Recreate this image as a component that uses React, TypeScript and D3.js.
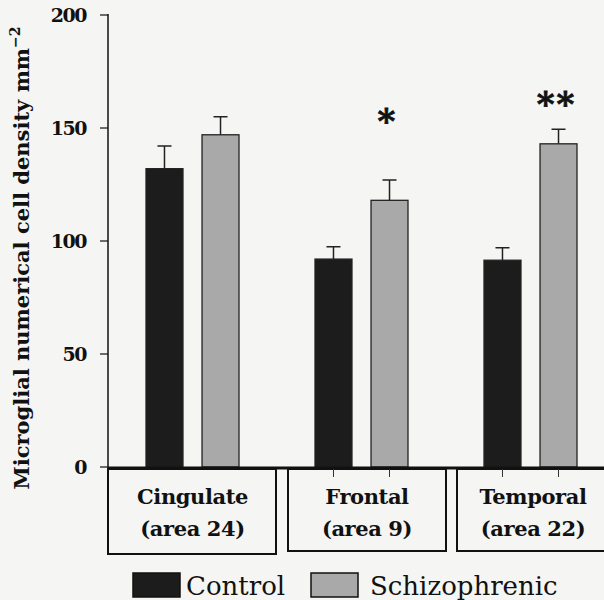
import React, { useEffect, useRef } from 'react';
import * as d3 from 'd3';

// values
const regions = ['Cingulate', 'Frontal', 'Temporal'];
const regionAreas = ['(area 24)', '(area 9)', '(area 22)'];
const series = ['Control', 'Schizophrenic'];
const controlMeans = [132, 92, 91.5];
const controlErrors = [10, 5.5, 5.5];
const schizoMeans = [147, 118, 143];
const schizoErrors = [8, 9, 6.5];
const significance = ['', '*', '**'];
const yTicks = [0, 50, 100, 150, 200];

const App = () => {
  const ref = useRef<SVGSVGElement>(null);

  useEffect(() => {
    const svg = d3.select(ref.current);
    svg.selectAll('*').remove();

    const font = "'DejaVu Serif', 'Liberation Serif', serif";
    const colors = ['#1c1c1c', '#a9a9a9'];

    svg.append('rect').attr('width', 604).attr('height', 600).attr('fill', '#f5f5f3');

    const y = d3.scaleLinear().domain([0, 200]).range([467, 15]);
    const x0 = d3.scaleBand().domain(regions).range([108, 615]);
    const x1 = d3.scaleBand().domain(series).range([-46.5, 46.5]).paddingInner(0.34).paddingOuter(0);

    const data = regions.map((r, i) => ({
      region: r,
      area: regionAreas[i],
      sig: significance[i],
      vals: [
        { s: series[0], v: controlMeans[i], e: controlErrors[i] },
        { s: series[1], v: schizoMeans[i], e: schizoErrors[i] },
      ],
    }));

    const g = svg.append('g').style('font-family', font);

    // y axis
    const axisX = 108;
    g.append('line')
      .attr('x1', axisX).attr('x2', axisX)
      .attr('y1', y(200) - 1).attr('y2', 553)
      .attr('stroke', '#111').attr('stroke-width', 1.5);
    g.selectAll('.ytick')
      .data(yTicks)
      .enter()
      .append('line')
      .attr('x1', axisX - 8).attr('x2', axisX)
      .attr('y1', (d) => y(d)).attr('y2', (d) => y(d))
      .attr('stroke', '#111').attr('stroke-width', 1.2);
    g.selectAll('.ylab')
      .data(yTicks)
      .enter()
      .append('text')
      .attr('x', 86)
      .attr('y', (d) => y(d) + 7)
      .attr('text-anchor', 'end')
      .attr('font-weight', 'bold')
      .attr('font-size', 19)
      .attr('letter-spacing', -1.5)
      .attr('fill', '#111')
      .text((d) => d);

    const yl = g.append('text')
      .attr('transform', `translate(29,${258}) rotate(-90)`)
      .attr('text-anchor', 'middle')
      .attr('font-weight', 'bold')
      .attr('font-size', 21)
      .attr('fill', '#111');
    yl.append('tspan').text('Microglial numerical cell density mm');
    yl.append('tspan').attr('dy', -9).attr('font-size', 14).text('−2');

    // bars
    const groups = g.selectAll('.grp')
      .data(data)
      .enter()
      .append('g')
      .attr('transform', (d) => `translate(${x0(d.region)! + x0.bandwidth() / 2},0)`);

    groups.selectAll('.err')
      .data((d) => d.vals)
      .enter()
      .append('path')
      .attr('d', (d) => {
        const cx = x1(d.s)! + x1.bandwidth() / 2;
        return `M${cx},${y(d.v)}V${y(d.v + d.e)}M${cx - 7},${y(d.v + d.e)}H${cx + 7}`;
      })
      .attr('stroke', '#222').attr('stroke-width', 1.5).attr('fill', 'none');

    groups.selectAll('.bar')
      .data((d) => d.vals)
      .enter()
      .append('rect')
      .attr('x', (d) => x1(d.s)!)
      .attr('y', (d) => y(d.v))
      .attr('width', x1.bandwidth())
      .attr('height', (d) => y(0) - y(d.v))
      .attr('fill', (d, i) => colors[i])
      .attr('stroke', '#222')
      .attr('stroke-width', 1.3);

    // significance marks (gap above the error bar in value units)
    const sigGap: Record<string, number> = { '*': 26, '**': 11 };
    groups.filter((d) => d.sig !== '')
      .append('text')
      .attr('x', x1(series[1])! + x1.bandwidth() / 2 - 2)
      .attr('y', (d) => y(d3.max(d.vals, (v) => v.v + v.e)! + sigGap[d.sig]) + 12)
      .attr('text-anchor', 'middle')
      .attr('font-weight', 'bold')
      .attr('font-size', 34)
      .attr('letter-spacing', 2)
      .attr('stroke', '#111')
      .attr('stroke-width', 0.8)
      .attr('fill', '#111')
      .text((d) => d.sig);

    // baseline
    g.append('line')
      .attr('x1', axisX).attr('x2', 604)
      .attr('y1', y(0) + 1).attr('y2', y(0) + 1)
      .attr('stroke', '#111').attr('stroke-width', 3);

    // category boxes
    const boxes = g.selectAll('.box')
      .data(data)
      .enter()
      .append('g');
    boxes.append('rect')
      .attr('x', (d, i) => x0(d.region)! + (i ? 11 : 0))
      .attr('y', y(0) + 2)
      .attr('width', (d, i) => x0.bandwidth() - (i ? 11 : 0) - (i === 1 ? 0 : 1) + (i === 2 ? 40 : 0))
      .attr('height', (d, i) => (i ? 82 : 85))
      .attr('fill', 'none')
      .attr('stroke', '#111')
      .attr('stroke-width', 2);
    boxes.filter((d, i) => i > 0)
      .selectAll('.tk')
      .data((d) => d.vals.map((v) => ({ ...v, region: d.region })))
      .enter()
      .append('line')
      .attr('x1', (d) => x0(d.region)! + x0.bandwidth() / 2 + x1(d.s)! + x1.bandwidth() / 2)
      .attr('x2', (d) => x0(d.region)! + x0.bandwidth() / 2 + x1(d.s)! + x1.bandwidth() / 2)
      .attr('y1', y(0) + 2).attr('y2', y(0) + 10)
      .attr('stroke', '#333').attr('stroke-width', 1);
    const cx = (d: any, i: number) => x0(d.region)! + (i ? 11 : 0) + (x0.bandwidth() - (i ? 11 : 0)) / 2 - (i === 2 ? 3 : 0);
    boxes.append('text')
      .attr('x', cx).attr('y', 504)
      .attr('text-anchor', 'middle')
      .attr('font-weight', 'bold').attr('font-size', 21)
      .attr('letter-spacing', -0.4)
      .attr('fill', '#111')
      .text((d) => d.region);
    boxes.append('text')
      .attr('x', cx).attr('y', 536)
      .attr('text-anchor', 'middle')
      .attr('font-weight', 'bold').attr('font-size', 21)
      .attr('letter-spacing', -0.4)
      .attr('fill', '#111')
      .text((d) => d.area);

    // legend
    const legX = [133, 311];
    const leg = g.selectAll('.leg')
      .data(series)
      .enter()
      .append('g')
      .attr('transform', (d, i) => `translate(${legX[i]},573)`);
    leg.append('rect')
      .attr('width', 47).attr('height', 24)
      .attr('fill', (d, i) => colors[i])
      .attr('stroke', '#111').attr('stroke-width', 1.5);
    leg.append('text')
      .attr('x', (d, i) => (i ? 59 : 53))
      .attr('y', 22)
      .attr('font-size', 26)
      .attr('fill', '#111')
      .text((d) => d);
  }, []);

  return (
    <svg ref={ref} width={604} height={600} style={{ position: 'absolute', left: 0, top: 0 }} />
  );
};

export default App;
